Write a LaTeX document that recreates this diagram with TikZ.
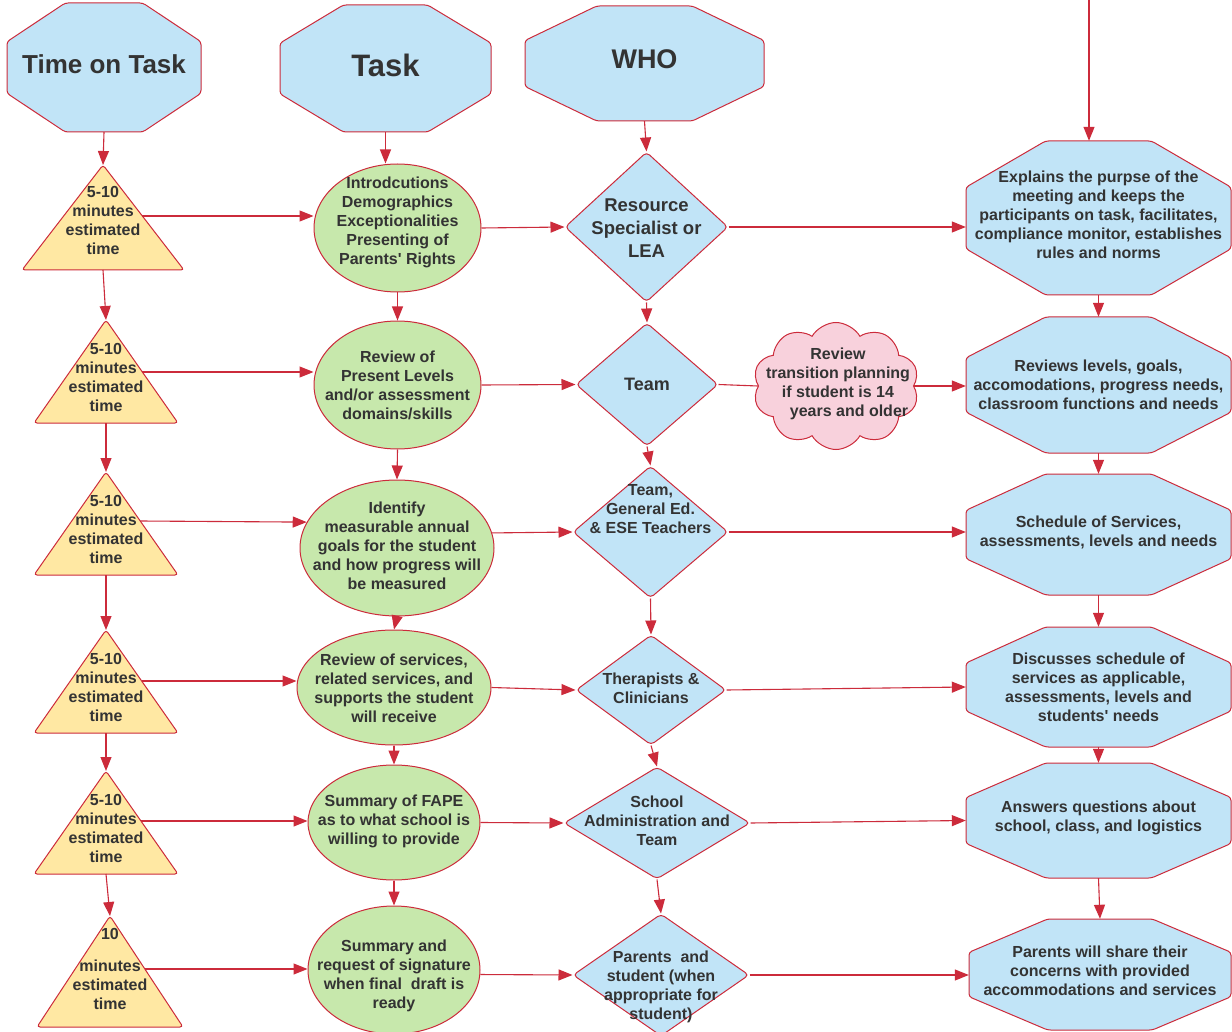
\documentclass[tikz,border=0pt]{standalone}
\usepackage{fontspec}
\setmainfont{Liberation Sans}
\usetikzlibrary{shapes.geometric,shapes.symbols,arrows.meta,calc}

\definecolor{lred}{HTML}{CC2B3B}
\definecolor{lblue}{HTML}{C1E4F7}
\definecolor{lgreen}{HTML}{C7E8AC}
\definecolor{lyellow}{HTML}{FFE8A3}
\definecolor{lpink}{HTML}{F8D1DC}
\definecolor{ltext}{HTML}{333333}

\tikzset{
  shp/.style={draw=lred, line width=1pt, rounded corners=3pt},
  octfill/.style={shp, fill=lblue},
  trifill/.style={shp, fill=lyellow},
  anchorbox/.style={inner sep=0pt, draw=none},
  txt/.style={align=center, text=ltext, font=\bfseries\fontsize{16}{19}\selectfont, inner sep=0pt},
  bigtxt/.style={txt, font=\bfseries\fontsize{18.5}{23}\selectfont},
  conn/.style={draw=lred, line width=1.1pt, -{Triangle[length=14pt,width=11pt]}},
  plainconn/.style={draw=lred, line width=1.1pt},
  ell/.style={ellipse, draw=lred, line width=1pt, fill=lgreen, inner sep=0pt},
  dia/.style={diamond, draw=lred, line width=1pt, fill=lblue, inner sep=0pt, rounded corners=4pt},
}

% octagon: name, cx, cy, w, h
\newcommand{\octshape}[5]{%
  \draw[octfill] ({#2-#4/2},{#3-0.2*#5}) -- ({#2-0.2*#4},{#3-#5/2}) -- ({#2+0.2*#4},{#3-#5/2}) -- ({#2+#4/2},{#3-0.2*#5}) -- ({#2+#4/2},{#3+0.2*#5}) -- ({#2+0.2*#4},{#3+#5/2}) -- ({#2-0.2*#4},{#3+#5/2}) -- ({#2-#4/2},{#3+0.2*#5}) -- cycle;
  \node[anchorbox, minimum width=#4pt, minimum height=#5pt] (#1) at (#2,#3) {};
}
% triangle: name, apex x, apex y, base y, half width, y of right connector
\newcommand{\trishape}[6]{%
  \draw[trifill] (#2,#3) -- ({#2+#5},#4) -- ({#2-#5},#4) -- cycle;
  \coordinate (#1-top) at (#2,#3);
  \coordinate (#1-bot) at (#2,#4);
  \coordinate (#1-r) at ({#2+#5*(#6-#3)/(#4-#3)},#6);
}
\newcommand{\apos}{\textquotesingle}

\begin{document}
\begin{tikzpicture}[x=1pt,y=-1pt]
\fill[white] (0,0) rectangle (1232,1032);
\useasboundingbox (0,0) rectangle (1232,1032);

% headers
\octshape{h1}{104}{67.5}{194}{129}
\octshape{h2}{385.5}{68.5}{211}{127}
\octshape{h3}{644.5}{63.5}{239}{115}

% right column
\octshape{o1}{1098.5}{218}{265}{154}
\octshape{o2}{1098.5}{385}{265}{136}
\octshape{o3}{1098.5}{534.5}{265}{121}
\octshape{o4}{1098.5}{687}{265}{120}
\octshape{o5}{1098.5}{820.5}{265}{115}
\octshape{o6}{1100}{974.5}{262}{111}

% triangles
\trishape{t1}{103}{165}{270}{81}{216}
\trishape{t2}{106}{320}{423}{72}{372}
\trishape{t3}{106}{472}{575}{72}{521}
\trishape{t4}{106}{630}{733}{72}{681}
\trishape{t5}{106}{771}{874}{72}{821}
\trishape{t6}{110}{916}{1027}{73}{969}

% ellipses
\node[ell, minimum width=167pt, minimum height=128pt] (e1) at (397.5,228) {};
\node[ell, minimum width=167pt, minimum height=128pt] (e2) at (397.5,385) {};
\node[ell, minimum width=194pt, minimum height=136pt] (e3) at (397,548) {};
\node[ell, minimum width=194pt, minimum height=115pt] (e4) at (394,687.5) {};
\node[ell, minimum width=172pt, minimum height=115pt] (e5) at (394,822.5) {};
\node[ell, minimum width=172pt, minimum height=128pt] (e6) at (394,970) {};

% diamonds
\node[dia, minimum width=163pt, minimum height=150pt] (d1) at (646.5,227) {};
\node[dia, minimum width=142pt, minimum height=123pt] (d2) at (647,384.5) {};
\node[dia, minimum width=155pt, minimum height=132pt] (d3) at (650.5,532) {};
\node[dia, minimum width=150pt, minimum height=110pt] (d4) at (651,690) {};
\node[dia, minimum width=186pt, minimum height=112pt] (d5) at (657,823) {};
\node[dia, minimum width=176pt, minimum height=122pt] (d6) at (661,975) {};

% cloud
\node[cloud, cloud puffs=10, cloud puff arc=120, aspect=1.3, draw=lred, fill=lpink, line width=1pt, inner sep=0pt, minimum width=166pt, minimum height=127pt] (cl) at (836,386) {};

% connectors: headers
\draw[conn] (h1.south) -- (t1-top);
\draw[conn] (h2.south) -- (h2.south |- e1.north);
\draw[conn] (h3.south) -- (d1.north);
\coordinate (topin) at (1089,-5);
\draw[conn] (topin) -- (topin |- o1.north);

% triangles column
\draw[conn] (t1-bot) -- (t2-top);
\draw[conn] (t2-bot) -- (t3-top);
\draw[conn] (t3-bot) -- (t4-top);
\draw[conn] (t4-bot) -- (t5-top);
\draw[conn] (t5-bot) -- (t6-top);

% ellipse column
\draw[conn] (e1.south) -- (e2.north);
\draw[conn] (e2.south) -- (e3.north);
\draw[conn] (e3.south) -- (e4.north);
\draw[conn] (e4.south) -- (e5.north);
\draw[conn] (e5.south) -- (e6.north);

% diamond column
\draw[conn] (d1.south) -- (d2.north);
\draw[conn] (d2.south) -- (d3.north);
\draw[conn] (d3.south) -- (d4.north);
\draw[conn] (d4.south) -- (d5.north);
\draw[conn] (d5.south) -- (d6.north);

% octagon column
\draw[conn] (o1.south) -- (o2.north);
\draw[conn] (o2.south) -- (o3.north);
\draw[conn] (o3.south) -- (o4.north);
\draw[conn] (o4.south) -- (o5.north);
\draw[conn] (o5.south) -- (o6.north);

% triangles to ellipses
\draw[conn] (t1-r) -- (t1-r -| e1.west);
\draw[conn] (t2-r) -- (t2-r -| e2.west);
\draw[conn] (t3-r) -- (e3.164);
\draw[conn] (t4-r) -- (t4-r -| e4.west);
\draw[conn] (t5-r) -- (t5-r -| e5.west);
\draw[conn] (t6-r) -- (t6-r -| e6.west);

% ellipses to diamonds
\draw[conn] (e1.east) -- (d1.west);
\draw[conn] (e2.east) -- (d2.west);
\draw[conn] (e3.9) -- (d3.west);
\draw[conn] (e4.east) -- (d4.west);
\draw[conn] (e5.east) -- (d5.west);
\draw[conn] (e6.-3) -- (d6.west);

% diamonds to octagons
\draw[conn] (d1.east) -- (d1.east -| o1.west);
\draw[plainconn] (d2.east) -- (cl.west);
\draw[conn] (cl.east) -- (cl.east -| o2.west);
\draw[conn] (d3.east) -- (d3.east -| o3.west);
\draw[conn] (d4.east) -- (o4.west);
\draw[conn] (d5.east) -- (o5.west);
\draw[conn] (d6.east) -- (d6.east -| o6.west);

% texts: headers
\node[txt, font=\bfseries\fontsize{26}{30}\selectfont] (h1t) at (104,64) {Time on Task};
\node[txt, font=\bfseries\fontsize{31}{36}\selectfont] (h2t) at (385.5,65) {Task};
\node[txt, font=\bfseries\fontsize{27}{32}\selectfont] (h3t) at (644.5,59) {WHO};

% texts: triangles
\node[txt] (t1t) at (103,220) {5-10\\minutes\\estimated\\time};
\node[txt] (t2t) at (106,377) {5-10\\minutes\\estimated\\time};
\node[txt] (t3t) at (106,529) {5-10\\minutes\\estimated\\time};
\node[txt] (t4t) at (106,687) {5-10\\minutes\\estimated\\time};
\node[txt] (t5t) at (106,828) {5-10\\minutes\\estimated\\time};
\node[txt] (t6t) at (110,969) {10\\[13pt]minutes\\estimated\\time};

% texts: ellipses
\node[txt] (e1t) at (397.5,222) {Introdcutions\\Demographics\\Exceptionalities\\Presenting of\\Parents\apos{} Rights};
\node[txt] (e2t) at (397.5,385) {Review of\\Present Levels\\and/or assessment\\domains/skills};
\node[txt] (e3t) at (397,546) {Identify\\measurable annual\\goals for the student\\and how progress will\\be measured};
\node[txt] (e4t) at (394,688) {Review of services,\\related services, and\\supports the student\\will receive};
\node[txt] (e5t) at (394,821) {Summary of FAPE\\as to what school is\\willing to provide};
\node[txt] (e6t) at (394,976) {Summary and\\request of signature\\when final\ \ draft is\\ready};

% texts: diamonds
\node[bigtxt] (d1t) at (646.5,228) {Resource\\Specialist or\\LEA};
\node[bigtxt, font=\bfseries\fontsize{18}{22}\selectfont] (d2t) at (647,384) {Team};
\node[txt] (d3t) at (650.5,509) {Team,\\General Ed.\\\& ESE Teachers};
\node[txt] (d4t) at (651,688) {Therapists \&\\Clinicians};
\node[txt] (d5t) at (657,821) {School\\Administration and\\Team};
\node[txt] (d6t) at (661,987) {Parents\ \ and\\student (when\\appropriate for\\student)};

% text: cloud
\node[txt] (clt) at (838,384) {Review\\transition planning\\if student is 14\\\hspace*{22pt}years and older};

% texts: octagons
\node[txt] (o1t) at (1098.5,215) {Explains the purpse of the\\meeting and keeps the\\participants on task, facilitates,\\compliance monitor, establishes\\rules and norms};
\node[txt] (o2t) at (1098.5,385) {Reviews levels, goals,\\accomodations, progress needs,\\classroom functions and needs};
\node[txt] (o3t) at (1098.5,532) {Schedule of Services,\\assessments, levels and needs};
\node[txt] (o4t) at (1098.5,687) {Discusses schedule of\\services as applicable,\\assessments, levels and\\students\apos{} needs};
\node[txt] (o5t) at (1098.5,818) {Answers questions about\\school, class, and logistics};
\node[txt] (o6t) at (1100,971) {Parents will share their\\concerns with provided\\accommodations and services};
\end{tikzpicture}
\end{document}
